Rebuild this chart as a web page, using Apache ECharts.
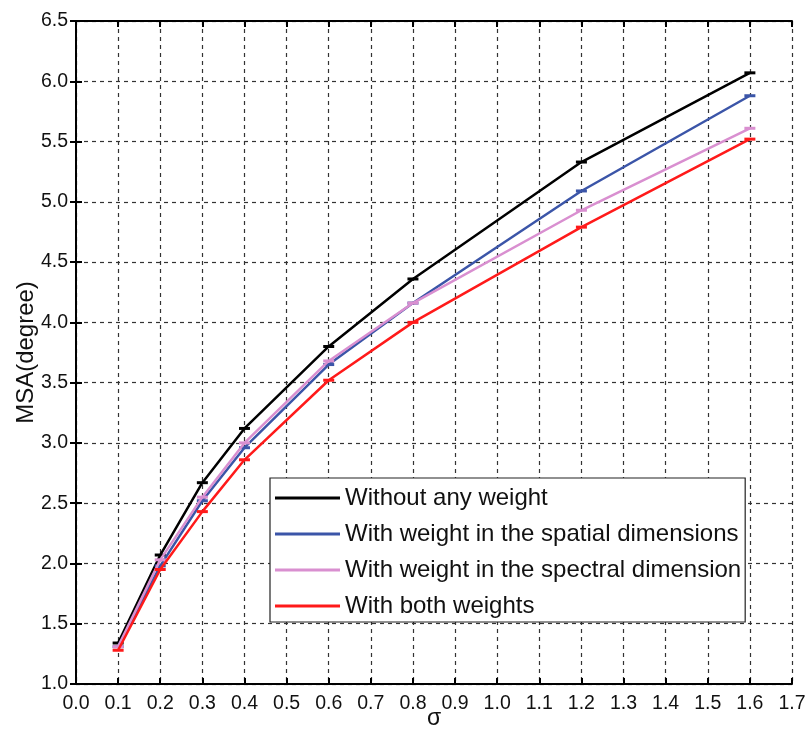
<!DOCTYPE html>
<html><head><meta charset="utf-8">
<script src="https://cdn.jsdelivr.net/npm/echarts@6/dist/echarts.min.js"></script>
<style>html,body{margin:0;padding:0;background:#fff}#c{width:809px;height:731px}</style>
</head><body><div id="c"></div>
<script>
var sigma = [0.1, 0.2, 0.3, 0.4, 0.6, 0.8, 1.2, 1.6];
var noWeight = [1.34, 2.07, 2.67, 3.12, 3.80, 4.36, 5.33, 6.07];
var spatialWeight = [1.31, 1.98, 2.52, 2.96, 3.65, 4.16, 5.09, 5.88];
var spectralWeight = [1.31, 2.03, 2.55, 3.00, 3.68, 4.16, 4.93, 5.61];
var bothWeights = [1.28, 1.95, 2.43, 2.86, 3.52, 4.00, 4.79, 5.52];
var seriesNames = ['Without any weight', 'With weight in the spatial dimensions', 'With weight in the spectral dimension', 'With both weights'];
var colors = ['#000000', '#3b55a8', '#d98fd0', '#ff1a1a'];
var allData = [noWeight, spatialWeight, spectralWeight, bothWeights];

var font = 'Liberation Sans, Arial, sans-serif';
function pairs(v){ return sigma.map(function(s,i){ return [s, v[i]]; }); }
var series = allData.map(function(v, k){
  return {
    name: seriesNames[k], type: 'line', data: pairs(v),
    xAxisIndex: 0, yAxisIndex: 0,
    lineStyle: {color: colors[k], width: 2.5},
    itemStyle: {color: colors[k]},
    symbol: 'rect', symbolSize: [11, 3], showSymbol: true,
    z: 3 + k
  };
});
var axisCommon = {
  axisLine: {show: true, lineStyle: {color: '#000', width: 2}},
  axisTick: {show: true, inside: true, length: 6, lineStyle: {color: '#000', width: 2}}
};
var option = {
  animation: false,
  grid: {left: 76, right: 17, top: 21, bottom: 47, containLabel: false, outerBoundsMode: 'none'},
  xAxis: [
    Object.assign({type: 'value', min: 0, max: 1.7, interval: 0.1, position: 'bottom',
      name: 'σ', nameLocation: 'middle', nameGap: 23, nameMoveOverlap: false,
      nameTextStyle: {fontSize: 23, color: '#111', fontFamily: font},
      axisLabel: {fontSize: 19.5, color: '#111', fontFamily: font, margin: 10,
        formatter: function(v){ return v.toFixed(1); }},
      splitLine: {show: true, lineStyle: {color: '#333', type: [4, 4], width: 1.2}}
    }, axisCommon),
    Object.assign({type: 'value', min: 0, max: 1.7, interval: 0.1, position: 'top',
      axisLabel: {show: false}, splitLine: {show: false}}, axisCommon)
  ],
  yAxis: [
    Object.assign({type: 'value', min: 1.0, max: 6.5, interval: 0.5, position: 'left',
      name: 'MSA(degree)', nameLocation: 'middle', nameGap: 38, nameMoveOverlap: false,
      nameTextStyle: {fontSize: 24, color: '#111', fontFamily: font},
      axisLabel: {fontSize: 19.5, color: '#111', fontFamily: font, margin: 8,
        formatter: function(v){ return v.toFixed(1); }},
      splitLine: {show: true, lineStyle: {color: '#333', type: [4, 4], width: 1.2}}
    }, axisCommon),
    Object.assign({type: 'value', min: 1.0, max: 6.5, interval: 0.5, position: 'right',
      axisLabel: {show: false}, splitLine: {show: false}}, axisCommon)
  ],
  legend: {
    orient: 'vertical', left: 270, top: 478,
    data: seriesNames,
    icon: 'rect', itemWidth: 65, itemHeight: 3, itemGap: 10,
    padding: [7, 4, 3, 5],
    backgroundColor: '#fff', borderColor: '#222', borderWidth: 1.2,
    textStyle: {fontSize: 24, color: '#111', fontFamily: font, lineHeight: 26}
  },
  series: series
};
echarts.init(document.getElementById('c')).setOption(option);
</script>
</body></html>
